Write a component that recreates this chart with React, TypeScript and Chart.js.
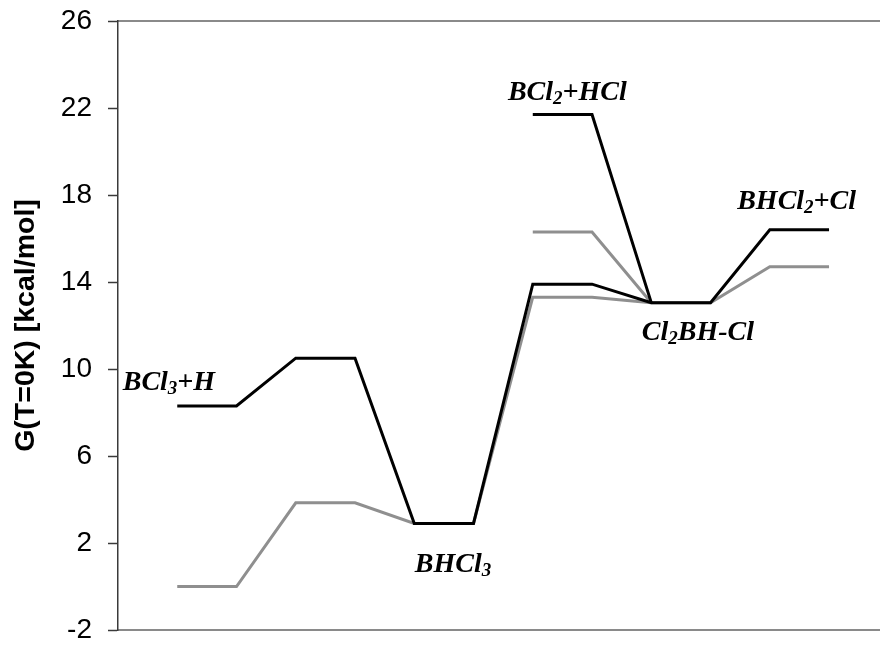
import React, { useEffect, useRef } from "react";
import { Chart, registerables } from "chart.js";

Chart.register(...registerables);

// reaction coordinate steps (two x positions per level)
const steps = [1, 2, 3, 4, 5, 6, 7, 8, 9, 10, 11, 12];
// black profile (main path)
const blackMain = [8.3, 8.3, 10.5, 10.5, 2.9, 2.9, 13.9, 13.9, 13.05, 13.05, 16.4, 16.4];
// gray profile (main path)
const grayMain = [0, 0, 3.85, 3.85, 2.9, 2.9, 13.3, 13.3, 13.05, 13.05, 14.7, 14.7];
// side branches (BCl2 + HCl -> Cl2BH-Cl)
const branchSteps = [7, 8, 9];
const blackBranch = [21.7, 21.7, 13.05];
const grayBranch = [16.3, 16.3, 13.05];
// y axis ticks
const yTicks = [-2, 2, 6, 10, 14, 18, 22, 26];
// species labels ("_d" marks a subscript digit)
const speciesLabels = ["BCl_3+H", "BHCl_3", "BCl_2+HCl", "BHCl_2+Cl", "Cl_2BH-Cl"];
const labelStep = [0.08, 5.01, 6.58, 10.45, 8.84];
const labelEnergy = [9.03, 0.67, 22.37, 17.36, 11.33];

const yTitle = "G(T=0K) [kcal/mol]";

const BLACK = "#000000";
const GRAY = "#8f8f8f";

const toPoints = (xs: number[], ys: number[]) => xs.map((x, i) => ({ x, y: ys[i] }));

const decorPlugin = {
  id: "decor",
  beforeDraw(chart: any) {
    const { ctx, chartArea } = chart;
    const { left, right, top, bottom } = chartArea;
    ctx.save();
    ctx.strokeStyle = "#8a8a8a";
    ctx.lineWidth = 2;
    ctx.beginPath();
    ctx.moveTo(left, top);
    ctx.lineTo(right, top);
    ctx.moveTo(left, bottom);
    ctx.lineTo(right, bottom);
    ctx.stroke();
    ctx.restore();
  },
  afterDraw(chart: any) {
    const { ctx } = chart;
    const xs = chart.scales.x;
    const ys = chart.scales.y;
    const fam = "'Liberation Serif', 'Times New Roman', serif";
    const mainFont = `italic bold 28px ${fam}`;
    const subFont = `italic bold 19px ${fam}`;
    ctx.save();
    ctx.fillStyle = "#000";
    ctx.textAlign = "left";
    ctx.textBaseline = "alphabetic";
    speciesLabels.forEach((label, i) => {
      let x = xs.getPixelForValue(labelStep[i]);
      const y = ys.getPixelForValue(labelEnergy[i]);
      const parts = label.split(/_(\d)/);
      parts.forEach((p, j) => {
        if (!p) return;
        const isSub = j % 2 === 1;
        ctx.font = isSub ? subFont : mainFont;
        ctx.fillText(p, x, isSub ? y + 4 : y);
        x += ctx.measureText(p).width;
      });
    });
    ctx.restore();
  },
};

export default function App() {
  const canvasRef = useRef<HTMLCanvasElement | null>(null);

  useEffect(() => {
    const canvas = canvasRef.current;
    if (!canvas) return;
    const chart = new Chart(canvas, {
      type: "line",
      data: {
        datasets: [
          {
            data: toPoints(steps, blackMain),
            borderColor: BLACK,
            borderWidth: 3,
            pointRadius: 0,
            fill: false,
            tension: 0,
          },
          {
            data: toPoints(branchSteps, blackBranch),
            borderColor: BLACK,
            borderWidth: 3,
            pointRadius: 0,
            fill: false,
            tension: 0,
          },
          {
            data: toPoints(steps, grayMain),
            borderColor: GRAY,
            borderWidth: 3,
            pointRadius: 0,
            fill: false,
            tension: 0,
          },
          {
            data: toPoints(branchSteps, grayBranch),
            borderColor: GRAY,
            borderWidth: 3,
            pointRadius: 0,
            fill: false,
            tension: 0,
          },
        ],
      },
      options: {
        responsive: false,
        animation: false,
        events: [],
        layout: { padding: { left: 0, right: 0, top: 21, bottom: 15 } },
        plugins: {
          legend: { display: false },
          tooltip: { enabled: false },
          title: { display: false },
        },
        scales: {
          x: {
            type: "linear",
            min: 0,
            max: 12.86,
            display: false,
          },
          y: {
            type: "linear",
            min: -2,
            max: 26,
            afterFit: (scale: any) => {
              scale.width = 118;
              scale.paddingTop = 0;
              scale.paddingBottom = 0;
            },
            afterBuildTicks: (scale: any) => {
              scale.ticks = yTicks.map((v) => ({ value: v }));
            },
            ticks: {
              color: "#000",
              padding: 16,
              font: { family: "Arial, 'Liberation Sans', sans-serif", size: 28, lineHeight: 1 },
              callback: (v: any) => String(v),
            },
            grid: {
              drawOnChartArea: false,
              drawTicks: true,
              tickLength: 10,
              tickColor: "#3a3a3a",
              tickWidth: 1.5,
            },
            border: { display: true, color: "#3a3a3a", width: 1.5 },
            title: {
              display: true,
              text: yTitle,
              color: "#000",
              padding: { top: 9, bottom: 0 },
              font: { family: "Arial, 'Liberation Sans', sans-serif", size: 28.5, weight: "bold" },
            },
          },
        },
      },
      plugins: [decorPlugin],
    } as any);
    return () => chart.destroy();
  }, []);

  return (
    <div style={{ position: "absolute", left: 0, top: 0, width: 880, height: 645, background: "#fff" }}>
      <canvas ref={canvasRef} width={880} height={645} style={{ display: "block" }} />
    </div>
  );
}
